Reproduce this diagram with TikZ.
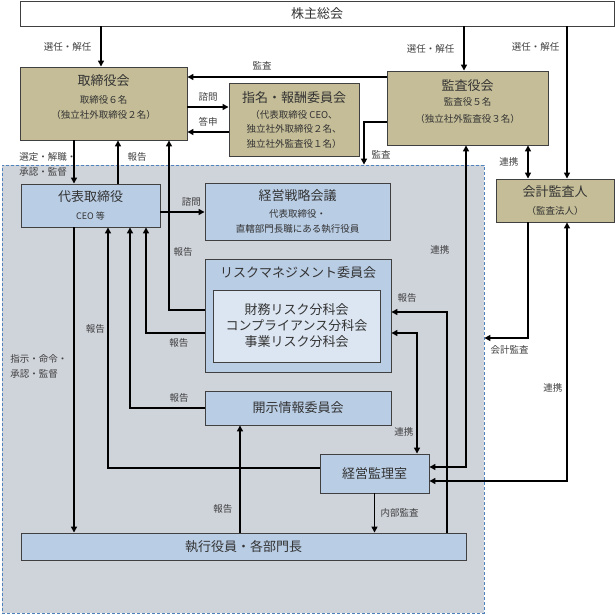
\documentclass[tikz,border=0pt]{standalone}
\usepackage{fontspec}
\setmainfont{Noto Sans CJK JP}
\usetikzlibrary{arrows.meta}
\definecolor{gtan}{HTML}{C4BD97}
\definecolor{gblue}{HTML}{B9CDE5}
\definecolor{glight}{HTML}{DCE6F2}
\definecolor{ggray}{HTML}{CFD3DA}
\definecolor{gdash}{HTML}{4F81BD}
\newcommand{\ttlfont}{\fontsize{13}{16}\selectfont}
\newcommand{\subfont}{\fontsize{9.5}{15}\selectfont}

\begin{document}
\begin{tikzpicture}[
  font=\subfont,
  box/.style={draw=black!75, line width=0.9pt, align=center, inner sep=0pt,
              text=black!80},
  board/.style={box, fill=gtan},
  exe/.style={box, fill=gblue},
  bunkabox/.style={box, fill=glight, font=\ttlfont},
  big/.style={font=\ttlfont},
  lbl/.style={text=black!75, align=center, inner sep=1pt},
  arr/.style={-{Triangle[length=6pt,width=6pt]}, line width=1.4pt},
  arr2/.style={{Triangle[length=6pt,width=6pt]}-{Triangle[length=6pt,width=6pt]},
               line width=1.4pt},
]
\useasboundingbox (0pt,0pt) rectangle (615pt,-615pt);

% ---- execution area (dashed) ----
\node[draw=gdash, dash pattern=on 3pt off 2pt, line width=0.8pt, fill=ggray,
      minimum width=482pt, minimum height=448pt, inner sep=0pt] (exec) at (243pt,-389pt) {};

% ---- governance (top) ----
\node[box, big, fill=white, minimum width=594pt, minimum height=25pt] (kabu) at (317pt,-13.5pt) {株主総会};
\node[board, minimum width=167pt, minimum height=73pt] (tori) at (103.5pt,-103.5pt)
  {{\ttlfont 取締役会}\\[3pt] 取締役６名\\ （独立社外取締役２名）\\[-1pt]\mbox{}};
\node[board, minimum width=130pt, minimum height=73pt] (shimei) at (294pt,-119.5pt)
  {{\ttlfont 指名・報酬委員会}\\[1pt] （代表取締役 CEO、\\[-1pt] 独立社外取締役２名、\\ 独立社外監査役１名）};
\node[board, minimum width=161pt, minimum height=74pt] (kansa) at (467.5pt,-108pt)
  {{\ttlfont 監査役会}\\ 監査役５名\\[2pt] （独立社外監査役３名）\\[-1pt]\mbox{}};
\node[board, minimum width=118pt, minimum height=43pt] (kaikei) at (555pt,-200.5pt)
  {{\ttlfont 会計監査人}\\[3pt] （監査法人）};

% ---- execution side ----
\node[exe, minimum width=139pt, minimum height=43pt] (daihyo) at (90.5pt,-205.5pt)
  {{\ttlfont 代表取締役}\\[3pt] {\fontsize{9}{12}\selectfont CEO 等}};
\node[exe, minimum width=185pt, minimum height=57pt] (senryaku) at (297.5pt,-211.5pt)
  {{\ttlfont 経営戦略会議}\\[2pt] 代表取締役・\\ 直轄部門長職にある執行役員};
\node[exe, minimum width=186pt, minimum height=113pt] (risk) at (298pt,-315.5pt) {};
\node[lbl, big, text=black!80] (risktitle) at (298pt,-273pt) {リスクマネジメント委員会};
\node[bunkabox, minimum width=167pt, minimum height=72pt] (bunka) at (296.5pt,-326pt)
  {財務リスク分科会\\ コンプライアンス分科会\\ 事業リスク分科会};
\node[exe, big, minimum width=186pt, minimum height=34pt] (kaiji) at (298pt,-408pt) {開示情報委員会};
\node[exe, big, minimum width=109pt, minimum height=39pt] (keiei) at (374.5pt,-473.5pt) {経営監理室};
\node[exe, big, minimum width=445pt, minimum height=27pt] (shikko) at (243.5pt,-546.5pt) {執行役員・各部門長};

% ---- shareholders ----
\draw[arr] ([xshift=-2.5pt]kabu.south -| tori.north) -- node[lbl, left=8pt] {選任・解任} ([xshift=-2.5pt]tori.north);
\draw[arr] ([xshift=-3.5pt]kabu.south -| kansa.north) -- node[lbl, left=8pt] {選任・解任} ([xshift=-3.5pt]kansa.north);
\draw[arr] ([xshift=12pt]kabu.south -| kaikei.north) -- node[lbl, left=6pt, pos=0.137] {選任・解任} ([xshift=12pt]kaikei.north);

% ---- board level ----
\draw[arr] ([yshift=31pt]kansa.west) -- node[lbl, above=5pt, pos=0.625] {監査} ([yshift=31pt]kansa.west -| tori.east);
\draw[arr] ([yshift=-3.5pt]tori.east) -- node[lbl, above=4pt] {諮問} ([yshift=-3.5pt]tori.east -| shimei.west);
\draw[arr] ([yshift=-12.5pt]shimei.west) -- node[lbl, above=4pt] {答申} ([yshift=-12.5pt]shimei.west -| tori.east);
\draw[arr] ([yshift=-14pt]kansa.west) -| node[lbl, right=6pt, pos=0.88] {監査} ([xshift=121pt]exec.north);
\draw[arr2] ([xshift=60.5pt]kansa.south) -- node[lbl, left=8pt] {連携} ([xshift=60.5pt]kansa.south |- kaikei.north);
\draw[arr] ([xshift=-29.5pt]tori.south) -- node[lbl, align=left, anchor=east, xshift=4pt, yshift=-2pt] {選定・解職・\\承認・監督}
  ([xshift=-29.5pt]tori.south |- daihyo.north);
\draw[arr] ([xshift=27.5pt]daihyo.north) -- node[lbl, right=8pt, yshift=5pt] {報告} ([xshift=27.5pt]daihyo.north |- tori.south);
\draw[arr] ([yshift=5.5pt]risk.west) -| node[lbl, right=3pt, pos=0.67] {報告} ([xshift=65.5pt]tori.south);

% ---- reports to CEO ----
\draw[arr] ([yshift=-6.5pt]daihyo.east) -- node[lbl, above=4pt, pos=0.7] {諮問} ([yshift=-6.5pt]daihyo.east -| senryaku.west);
\draw[arr] ([yshift=-17.5pt]risk.west) -| node[lbl, below=4pt, pos=0.22] {報告} ([xshift=55.5pt]daihyo.south);
\draw[arr] (kaiji.west) -| node[lbl, above=4pt, pos=0.17] {報告} ([xshift=39.5pt]daihyo.south);
\draw[arr] ([yshift=5.5pt]keiei.west) -| node[lbl, left=1.5pt, pos=0.79] {報告} ([xshift=17.5pt]daihyo.south);
\draw[arr] ([xshift=-16.5pt]daihyo.south) -- node[lbl, align=left, anchor=east, xshift=-5pt, pos=0.457] {指示・命令・\\承認・監督}
  ([xshift=-16.5pt]daihyo.south |- shikko.north);

% ---- executives / audit office ----
\draw[arr] ([xshift=-3.5pt]shikko.north) -- node[lbl, left=6pt, pos=0.22] {報告} ([xshift=-3.5pt]shikko.north |- kaiji.south);
\draw[arr] (keiei.south) -- node[lbl, right=4.5pt] {内部監査} (keiei.south |- shikko.north);
\draw[arr] ([xshift=203.5pt]shikko.north) |- node[lbl, above=8pt, pos=0.86] {報告} ([yshift=3.5pt]risk.east);
\draw[arr2] ([yshift=-17.5pt]risk.east) -| node[lbl, left=2pt, pos=0.91] {連携} ([xshift=42.5pt]keiei.north);
\draw[arr2] ([xshift=-1.5pt]kansa.south) |- node[lbl, left=15pt, pos=0.163] {連携} ([yshift=6.5pt]keiei.east);

% ---- external auditor ----
\draw[arr] ([xshift=-27pt]kaikei.south) |- node[lbl, below=6pt, pos=0.71] {会計監査} ([yshift=51pt]exec.east);
\draw[arr2] ([xshift=12pt]kaikei.south) |- node[lbl, left=3pt, pos=0.32] {連携} ([yshift=-7.5pt]keiei.east);
\end{tikzpicture}
\end{document}
